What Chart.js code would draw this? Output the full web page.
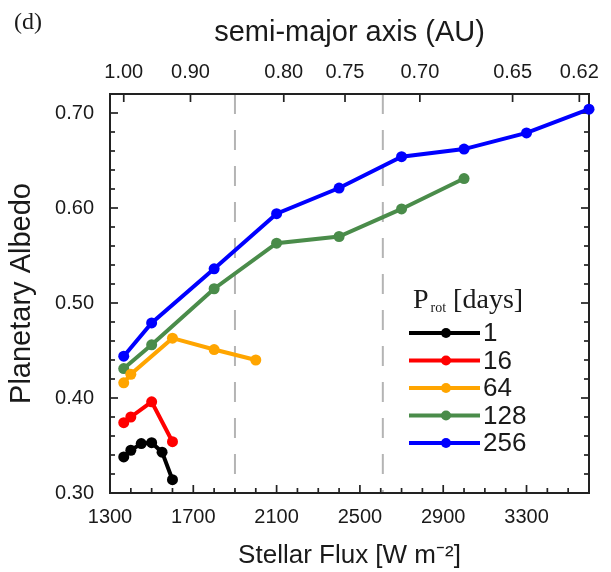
<!DOCTYPE html>
<html><head><meta charset="utf-8">
<script src="https://cdn.jsdelivr.net/npm/chart.js@4.4.1/dist/chart.umd.min.js"></script>
<style>html,body{margin:0;padding:0;background:#fff;}#wrap{width:611px;height:572px;}</style>
</head><body><div id="wrap"><canvas id="c" width="611" height="572"></canvas></div>
<script>
// ---- data ----
const rotationPeriods = ['1', '16', '64', '128', '256'];
const flux_1   = [1366, 1400, 1450, 1500, 1550, 1600];
const albedo_1 = [0.338, 0.345, 0.352, 0.353, 0.343, 0.314];
const flux_16   = [1366, 1400, 1500, 1600];
const albedo_16 = [0.374, 0.380, 0.396, 0.354];
const flux_64   = [1366, 1400, 1600, 1800, 2000];
const albedo_64 = [0.416, 0.425, 0.463, 0.451, 0.440];
const flux_128   = [1366, 1500, 1800, 2100, 2400, 2700, 3000];
const albedo_128 = [0.431, 0.456, 0.515, 0.563, 0.570, 0.599, 0.631];
const flux_256   = [1366, 1500, 1800, 2100, 2400, 2700, 3000, 3300, 3600];
const albedo_256 = [0.444, 0.479, 0.536, 0.594, 0.621, 0.654, 0.662, 0.679, 0.704];
const fluxTicks = [1300, 1700, 2100, 2500, 2900, 3300];
const albedoTicks = [0.30, 0.40, 0.50, 0.60, 0.70];
const semiMajorTicks = [1.00, 0.90, 0.80, 0.75, 0.70, 0.65, 0.62];
const boundaryFlux = [1900, 2610];
const SOLAR_CONSTANT = 1366;

// ---- styles ----
const seriesColors = ['#000000', '#ff0000', '#ffa500', '#4a8c4a', '#0000ff'];
const TEXT = '#1a1a1a';
const SANS = '"Liberation Sans", Arial, sans-serif';
const SERIF = '"Liberation Serif", "Times New Roman", serif';

const fluxSeries = [flux_1, flux_16, flux_64, flux_128, flux_256];
const albedoSeries = [albedo_1, albedo_16, albedo_64, albedo_128, albedo_256];

const datasets = rotationPeriods.map((p, i) => ({
  label: p,
  data: fluxSeries[i].map((f, j) => ({x: f, y: albedoSeries[i][j]})),
  borderColor: seriesColors[i],
  backgroundColor: seriesColors[i],
  pointBackgroundColor: seriesColors[i],
  pointBorderColor: seriesColors[i],
  borderWidth: 4,
  pointRadius: 5.5,
  pointBorderWidth: 0,
  tension: 0,
  clip: false
}));

const decor = {
  id: 'decor',
  beforeDatasetsDraw(chart) {
    const {ctx, chartArea: a, scales} = chart;
    const x = scales.x, y = scales.y, xt = scales.xTop;
    ctx.save();
    // dashed reference lines
    ctx.strokeStyle = '#b4b4b4';
    ctx.lineWidth = 2;
    ctx.setLineDash([20, 16]);
    boundaryFlux.forEach(f => {
      const px = x.getPixelForValue(f);
      ctx.beginPath(); ctx.moveTo(px, a.top); ctx.lineTo(px, a.bottom); ctx.stroke();
    });
    ctx.setLineDash([]);
    // inward tick marks
    ctx.strokeStyle = '#222';
    ctx.lineWidth = 1.7;
    const MAJ = 8, MIN = 5;
    const seg = (x1, y1, x2, y2) => { ctx.beginPath(); ctx.moveTo(x1, y1); ctx.lineTo(x2, y2); ctx.stroke(); };
    for (let f = x.min; f <= x.max + 1e-6; f += 100) {
      const px = x.getPixelForValue(f);
      const len = fluxTicks.includes(Math.round(f)) ? MAJ : MIN;
      seg(px, a.bottom, px, a.bottom - len);
    }
    for (let i = 0; Math.round((y.min + i * 0.02) * 100) <= Math.round(y.max * 100); i++) {
      const v = y.min + i * 0.02;
      const py = y.getPixelForValue(v);
      const major = albedoTicks.some(t => Math.abs(t - v) < 1e-6);
      const len = major ? MAJ : MIN;
      seg(a.left, py, a.left + len, py);
      seg(a.right, py, a.right - len, py);
    }
    semiMajorTicks.forEach(am => {
      const px = xt.getPixelForValue(SOLAR_CONSTANT / (am * am));
      seg(px, a.top, px, a.top + MAJ);
    });
    // frame
    ctx.lineWidth = 2;
    ctx.strokeRect(a.left, a.top, a.right - a.left, a.bottom - a.top);
    ctx.restore();
  },
  afterDraw(chart) {
    const {ctx, chartArea: a} = chart;
    ctx.save();
    // panel label
    ctx.fillStyle = TEXT;
    ctx.font = '24px ' + SERIF;
    ctx.textBaseline = 'alphabetic';
    ctx.textAlign = 'left';
    ctx.fillText('(d)', 14, 29);
    // legend title
    const tx = a.left + 303, ty = a.top + 214;
    ctx.font = '28px ' + SERIF;
    ctx.fillText('P', tx, ty);
    let w = ctx.measureText('P').width;
    ctx.font = '14px ' + SERIF;
    ctx.fillText('rot', tx + w + 2, ty + 4);
    const w2 = ctx.measureText('rot').width;
    ctx.font = '28px ' + SERIF;
    ctx.fillText(' [days]', tx + w + 2 + w2, ty);
    // legend items
    const lx0 = a.left + 299, lx1 = a.left + 370, dotX = a.left + 336;
    chart.data.datasets.forEach((ds, i) => {
      const ry = a.top + 239 + i * 27.5;
      ctx.strokeStyle = ds.borderColor;
      ctx.lineWidth = 4;
      ctx.beginPath(); ctx.moveTo(lx0, ry); ctx.lineTo(lx1, ry); ctx.stroke();
      ctx.fillStyle = ds.borderColor;
      ctx.beginPath(); ctx.arc(dotX, ry, 5, 0, Math.PI * 2); ctx.fill();
      ctx.fillStyle = TEXT;
      ctx.font = '26px ' + SANS;
      ctx.textBaseline = 'middle';
      ctx.fillText(ds.label, lx1 + 3, ry + 1);
    });
    ctx.restore();
  }
};

new Chart(document.getElementById('c'), {
  type: 'line',
  data: {datasets},
  plugins: [decor],
  options: {
    responsive: false,
    animation: false,
    devicePixelRatio: 1,
    layout: {padding: {left: 0, right: 22, top: 0, bottom: 0}},
    plugins: {legend: {display: false}, tooltip: {enabled: false}},
    scales: {
      x: {
        type: 'linear', position: 'bottom', min: 1300, max: 3600,
        grid: {display: false, drawTicks: false},
        border: {display: false},
        afterBuildTicks: s => { s.ticks = fluxTicks.map(v => ({value: v})); },
        afterFit: s => { s.height = 79; },
        ticks: {autoSkip: false, maxRotation: 0, padding: 12, color: TEXT,
          font: {family: SANS, size: 20}, callback: v => String(v)},
        title: {display: true, text: 'Stellar Flux [W m⁻²]', color: TEXT,
          font: {family: SANS, size: 26}, padding: {top: 0, bottom: 1}}
      },
      xTop: {
        type: 'linear', position: 'top', min: 1300, max: 3600,
        grid: {display: false, drawTicks: false},
        border: {display: false},
        afterBuildTicks: s => { s.ticks = semiMajorTicks.map(am => ({value: SOLAR_CONSTANT / (am * am)})); },
        afterFit: s => { s.height = 94; },
        ticks: {autoSkip: false, maxRotation: 0, padding: 10, color: TEXT,
          font: {family: SANS, size: 20}, callback: (v, i) => semiMajorTicks[i].toFixed(2)},
        title: {display: true, text: 'semi-major axis (AU)', color: TEXT,
          font: {family: SANS, size: 29}, padding: {top: 16, bottom: 0}}
      },
      y: {
        type: 'linear', position: 'left', min: 0.30, max: 0.72,
        grid: {display: false, drawTicks: false},
        border: {display: false},
        afterBuildTicks: s => { s.ticks = albedoTicks.map(v => ({value: v})); },
        afterFit: s => { s.width = 110; },
        ticks: {autoSkip: false, padding: 16, color: TEXT,
          font: {family: SANS, size: 20}, callback: v => Number(v).toFixed(2)},
        title: {display: true, text: 'Planetary Albedo', color: TEXT,
          font: {family: SANS, size: 29}, padding: {top: 5, bottom: 0}}
      }
    }
  }
});
</script></body></html>
